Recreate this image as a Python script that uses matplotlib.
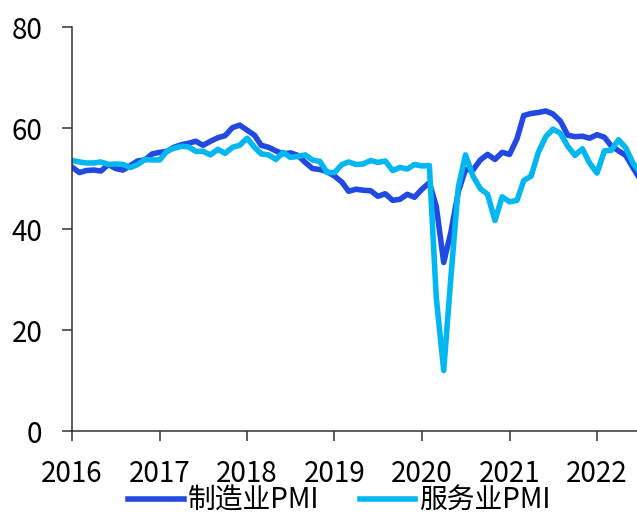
"""
欧元区制造业 / 服务业 PMI 走势图 (2016-01 ~ 2022-07, 月度)
"""

import pandas as pd
import matplotlib.pyplot as plt
import matplotlib.dates as mdates


# ==================== 数据 ====================

MONTHS = pd.date_range("2016-01-01", "2022-07-01", freq="MS")

# 制造业PMI
MANUFACTURING_PMI = [
    52.3, 51.2, 51.6, 51.7, 51.5, 52.8, 52.0, 51.7, 52.6, 53.5, 53.7, 54.9,  # 2016
    55.2, 55.4, 56.2, 56.7, 57.0, 57.4, 56.6, 57.4, 58.1, 58.5, 60.1, 60.6,  # 2017
    59.6, 58.6, 56.6, 56.2, 55.5, 54.9, 55.1, 54.6, 53.2, 52.0, 51.8, 51.4,  # 2018
    50.5, 49.3, 47.5, 47.9, 47.7, 47.6, 46.5, 47.0, 45.7, 45.9, 46.9, 46.3,  # 2019
    47.9, 49.2, 44.5, 33.4, 39.4, 47.4, 51.8, 51.7, 53.7, 54.8, 53.8, 55.2,  # 2020
    54.8, 57.9, 62.5, 62.9, 63.1, 63.4, 62.8, 61.4, 58.6, 58.3, 58.4, 58.0,  # 2021
    58.7, 58.2, 56.5, 55.5, 54.6, 52.1, 49.8,                                # 2022
]

# 服务业PMI
SERVICES_PMI = [
    53.6, 53.3, 53.1, 53.1, 53.3, 52.8, 52.9, 52.8, 52.2, 52.8, 53.8, 53.7,  # 2016
    53.7, 55.5, 56.0, 56.4, 56.3, 55.4, 55.4, 54.7, 55.8, 55.0, 56.2, 56.6,  # 2017
    58.0, 56.2, 54.9, 54.7, 53.8, 55.2, 54.2, 54.4, 54.7, 53.7, 53.4, 51.2,  # 2018
    51.2, 52.8, 53.3, 52.8, 52.9, 53.6, 53.2, 53.5, 51.6, 52.2, 51.9, 52.8,  # 2019
    52.5, 52.6, 26.4, 12.0, 30.5, 48.3, 54.7, 50.5, 48.0, 46.9, 41.7, 46.4,  # 2020
    45.4, 45.7, 49.6, 50.5, 55.2, 58.3, 59.8, 59.0, 56.4, 54.6, 55.9, 53.1,  # 2021
    51.1, 55.5, 55.6, 57.7, 56.1, 53.0, 51.2,                                # 2022
]

SERIES_NAMES = ["制造业PMI", "服务业PMI"]
YEAR_TICKS = list(range(2016, 2023))
Y_TICKS = [0, 20, 40, 60, 80]

# ==================== 绘图 ====================

COLORS = ["#2349E3", "#00B7F1"]
AXIS_COLOR = "#333333"
FONT_SIZE = 20

plt.rcParams["font.family"] = ["Noto Sans CJK SC", "DejaVu Sans"]

fig = plt.figure(figsize=(6.37, 5.12), dpi=100)
ax = fig.add_axes([0.113, 0.158, 0.887, 0.789])

ax.plot(MONTHS, MANUFACTURING_PMI, color=COLORS[0], linewidth=4, label=SERIES_NAMES[0])
ax.plot(MONTHS, SERVICES_PMI, color=COLORS[1], linewidth=4, label=SERIES_NAMES[1])

ax.set_ylim(0, 80)
ax.set_yticks(Y_TICKS)
ax.set_xlim(pd.Timestamp("2016-01-01"), pd.Timestamp("2022-06-17"))
ax.set_xticks([pd.Timestamp(f"{y}-01-01") for y in YEAR_TICKS])
ax.xaxis.set_major_formatter(mdates.DateFormatter("%Y"))

for side in ["top", "right"]:
    ax.spines[side].set_visible(False)
for side in ["left", "bottom"]:
    ax.spines[side].set_color(AXIS_COLOR)
    ax.spines[side].set_linewidth(1.1)

ax.tick_params(axis="both", direction="out", length=7.2, width=1.1,
               color=AXIS_COLOR, labelsize=FONT_SIZE, labelcolor="black")
ax.tick_params(axis="x", pad=13)
ax.tick_params(axis="y", pad=14)

fig.legend(loc="center", bbox_to_anchor=(0.533, 0.022), ncol=2, frameon=False,
           fontsize=FONT_SIZE, handlelength=2.0, handletextpad=0.15, columnspacing=1.44)

fig.savefig("out.png", dpi=100)
